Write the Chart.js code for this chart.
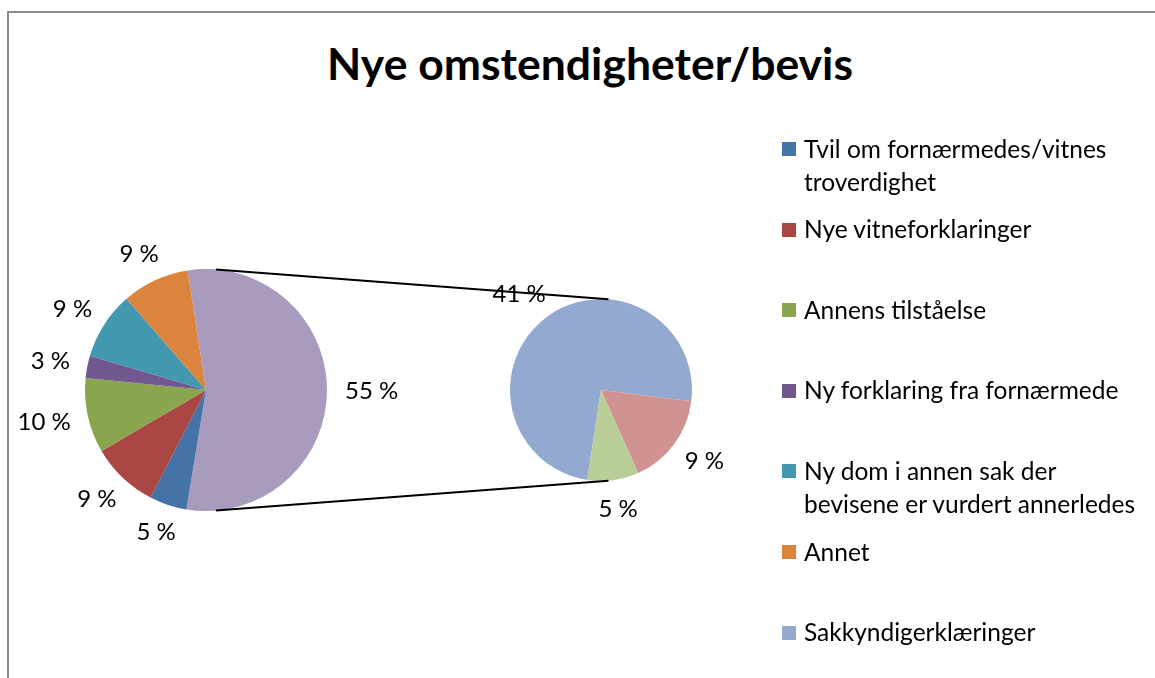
<!DOCTYPE html>
<html>
<head>
<meta charset="utf-8">
<script src="https://cdn.jsdelivr.net/npm/chart.js"></script>
<style>
  body { margin: 0; width: 1155px; height: 678px; overflow: hidden; background: #fff; font-family: Lato, sans-serif; }
  .frame { position: absolute; left: 7px; top: 11px; width: 1250px; height: 800px; border: 2px solid #8c8c8c; }
  .title { position: absolute; left: 0; width: 1180px; top: 36px; text-align: center; font-weight: bold; font-size: 44.5px; color: #000; }
  canvas.layer { position: absolute; left: 0; top: 0; }
  #subChart { pointer-events: none; }
  .legend-item { position: absolute; left: 782px; font-size: 24.5px; line-height: 33px; color: #000; }
  .legend-item .box { position: absolute; left: 0; top: 9.5px; width: 14px; height: 14px; }
  .legend-item .txt { position: absolute; left: 22px; top: -1px; white-space: nowrap; }
</style>
</head>
<body>
<div class="frame"></div>
<div class="title">Nye omstendigheter/bevis</div>
<canvas id="mainChart" class="layer" width="1155" height="678"></canvas>
<canvas id="subChart" class="layer" width="1155" height="678"></canvas>
<div id="legend"></div>

<script>
// categories in the main pie
const mainLabels = [
  ['Tvil om fornærmedes/vitnes', 'troverdighet'],
  ['Nye vitneforklaringer'],
  ['Annens tilståelse'],
  ['Ny forklaring fra fornærmede'],
  ['Ny dom i annen sak der', 'bevisene er vurdert annerledes'],
  ['Annet']
];
const mainValues = [5, 9, 10, 3, 9, 9];
const mainColors = ['#4572A7', '#AA4643', '#89A54E', '#71588F', '#4198AF', '#DB843D'];

// categories split out into the second pie (only the first is visible in the legend)
const subLabels = [['Sakkyndigerklæringer'], [''], ['']];
const subValues = [41, 9, 5];
const subColors = ['#93A9CF', '#D19392', '#B9CD96'];

const otherColor = '#A99BBD';
const otherValue = subValues.reduce((a, b) => a + b, 0);

// percent labels just outside each slice
const pctLabels = {
  id: 'pctLabels',
  afterDatasetsDraw(chart) {
    const ctx = chart.ctx;
    const meta = chart.getDatasetMeta(0);
    const vals = chart.data.datasets[0].data;
    ctx.save();
    ctx.font = '24px Lato';
    ctx.fillStyle = '#000';
    ctx.textAlign = 'center';
    ctx.textBaseline = 'middle';
    meta.data.forEach((arc, i) => {
      const p = arc.getProps(['x', 'y', 'startAngle', 'endAngle', 'outerRadius'], true);
      const mid = (p.startAngle + p.endAngle) / 2;
      const ux = Math.cos(mid), uy = Math.sin(mid);
      const txt = vals[i] + ' %';
      const w = ctx.measureText(txt).width;
      const rr = p.outerRadius + 18;
      ctx.fillText(txt, p.x + ux * rr + ux * w / 2, p.y + uy * rr + uy * 11);
    });
    ctx.restore();
  }
};

const mainChart = new Chart(document.getElementById('mainChart'), {
  type: 'pie',
  data: {
    labels: ['Andre'].concat(mainLabels),
    datasets: [{
      data: [otherValue].concat(mainValues),
      backgroundColor: [otherColor].concat(mainColors),
      borderWidth: 0
    }]
  },
  options: {
    responsive: false,
    animation: false,
    rotation: -8.7,
    layout: { padding: { left: 85, right: 828, top: 269, bottom: 167 } },
    plugins: { legend: { display: false }, tooltip: { enabled: false } }
  },
  plugins: [pctLabels]
});

// lines from the main pie to the second pie
const connector = {
  id: 'connector',
  afterDraw(chart) {
    const a = mainChart.getDatasetMeta(0).data[0];
    const b = chart.getDatasetMeta(0).data[0];
    if (!a || !b) return;
    const off = 0.082;
    const ctx = chart.ctx;
    ctx.save();
    ctx.strokeStyle = '#000';
    ctx.lineWidth = 2;
    ctx.beginPath();
    ctx.moveTo(a.x + Math.sin(off) * a.outerRadius, a.y - Math.cos(off) * a.outerRadius);
    ctx.lineTo(b.x + Math.sin(off) * b.outerRadius, b.y - Math.cos(off) * b.outerRadius);
    ctx.moveTo(a.x + Math.sin(off) * a.outerRadius, a.y + Math.cos(off) * a.outerRadius);
    ctx.lineTo(b.x + Math.sin(off) * b.outerRadius, b.y + Math.cos(off) * b.outerRadius);
    ctx.stroke();
    ctx.restore();
  }
};

new Chart(document.getElementById('subChart'), {
  type: 'pie',
  data: {
    labels: subLabels,
    datasets: [{
      data: subValues,
      backgroundColor: subColors,
      borderWidth: 0
    }]
  },
  options: {
    responsive: false,
    animation: false,
    rotation: 188.7,
    layout: { padding: { left: 510, right: 463, top: 299, bottom: 197 } },
    plugins: { legend: { display: false }, tooltip: { enabled: false } }
  },
  plugins: [pctLabels, connector]
});

// legend (main categories, then the split-out ones that have names)
const legendItems = mainLabels.map((l, i) => ({ lines: l, color: mainColors[i] }))
  .concat(subLabels.map((l, i) => ({ lines: l, color: subColors[i] })).filter(it => it.lines[0] !== ''));
const legendEl = document.getElementById('legend');
legendItems.forEach((it, i) => {
  const div = document.createElement('div');
  div.className = 'legend-item';
  div.style.top = (149 + i * 80.6 - 16.5) + 'px';
  div.innerHTML = '<div class="box" style="background:' + it.color + '"></div><div class="txt">' + it.lines.join('<br>') + '</div>';
  legendEl.appendChild(div);
});
</script>
</body>
</html>
